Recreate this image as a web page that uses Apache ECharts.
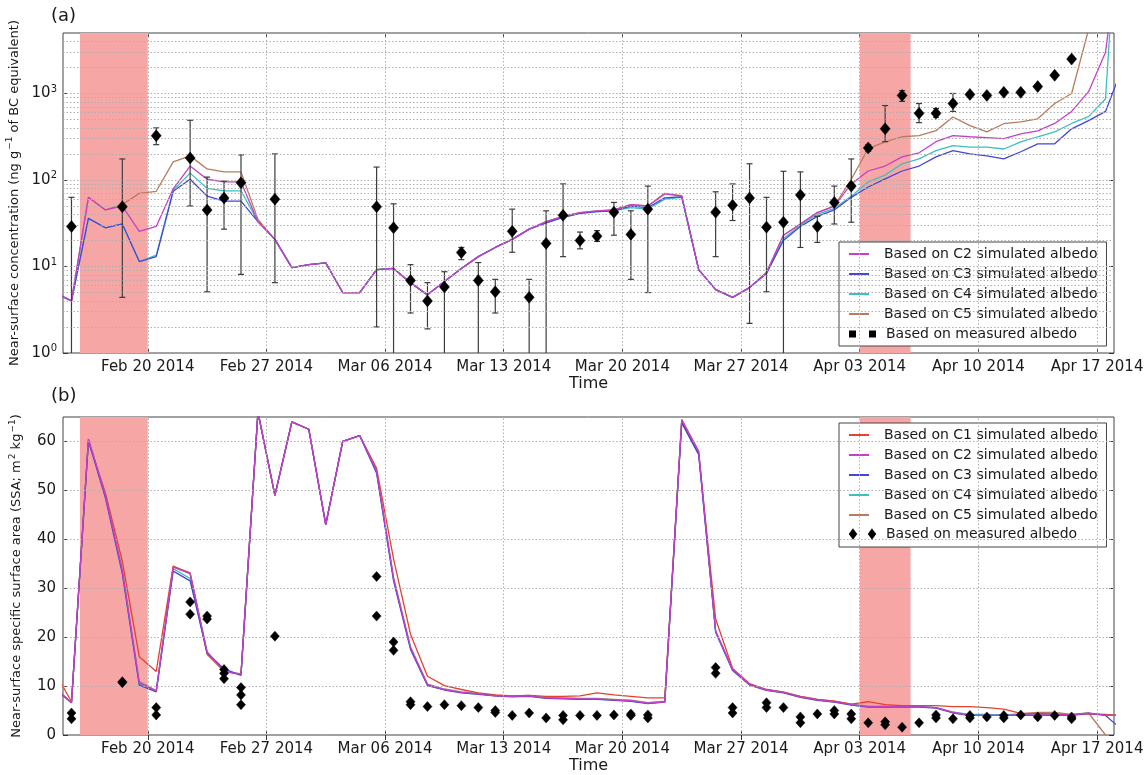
<!DOCTYPE html>
<html><head><meta charset="utf-8">
<script src="https://cdn.jsdelivr.net/npm/echarts@6/dist/echarts.min.js"></script>
<style>html,body{margin:0;padding:0;background:#fff}#c{width:1146px;height:775px}</style>
</head><body><div id="c"></div>
<script>
// ---------------- DATA ----------------
const xRange = ['02-15', '04-18'];
const tickDates = ['02-20','02-27','03-06','03-13','03-20','03-27','04-03','04-10','04-17'];
const pinkSpans = [['02-16','02-20'], ['04-03','04-06']];
const logMajor = [1, 10, 100, 1000];
const logMinor = [2,3,4,5,6,7,8,9,20,30,40,50,60,70,80,90,200,300,400,500,600,700,800,900,2000,3000,4000];
const ssaTicks = [0, 10, 20, 30, 40, 50, 60];

// simulated series, one value per day at noon
const simDates = ['02-14','02-15','02-16','02-17','02-18','02-19','02-20','02-21','02-22','02-23','02-24','02-25','02-26','02-27','02-28',
'03-01','03-02','03-03','03-04','03-05','03-06','03-07','03-08','03-09','03-10','03-11','03-12','03-13','03-14','03-15','03-16','03-17','03-18','03-19','03-20','03-21','03-22','03-23','03-24','03-25','03-26','03-27','03-28','03-29','03-30','03-31',
'04-01','04-02','04-03','04-04','04-05','04-06','04-07','04-08','04-09','04-10','04-11','04-12','04-13','04-14','04-15','04-16','04-17','04-18'];

// (a) BC concentration
const topC2 = [5.0, 4.0, 63, 45, 50, 25.5, 29, 79, 145, 102, 95, 95,
33, 20.6, 9.7, 10.5, 11, 5.0, 5.0, 9.2, 9.5, 6.5, 4.7, 6.7, 9.5, 13, 16.6, 20.6, 27, 33, 38, 42, 44, 45, 52, 50, 69, 65,
9.2, 5.4, 4.4, 5.7, 8.5, 23, 31, 42, 50, 90,
127, 145, 185, 206, 277, 325, 316, 308, 300, 342, 370, 450, 620, 1050, 3000, 100000];
const topC3 = [5.0, 4.0, 36, 28, 31, 11.4, 13, 74, 102, 65, 57, 57,
33, 20.6, 9.7, 10.5, 11, 5.0, 5.0, 9.2, 9.5, 6.5, 4.7, 6.7, 9.5, 13, 16.6, 20.6, 27, 32, 37, 41, 43, 44, 50, 48, 62, 64,
9.2, 5.4, 4.4, 5.7, 8.3, 20, 29, 38, 45, 63,
83, 103, 127, 145, 185, 218, 200, 190, 175, 212, 262, 262, 390, 485, 620, 2000];
const topC4 = [5.0, 4.0, 36, 28, 31, 11.4, 13.5, 76, 120, 80, 75, 75,
33, 20.6, 9.7, 10.5, 11, 5.0, 5.0, 9.2, 9.5, 6.5, 4.7, 6.7, 9.5, 13, 16.6, 20.6, 27, 32, 37, 41, 43, 44, 48, 46, 60, 63,
9.2, 5.4, 4.4, 5.7, 8.3, 21, 30, 40, 47, 65,
95, 114, 154, 175, 218, 250, 240, 240, 228, 275, 316, 360, 450, 540, 870, 1000000];
const topC5 = [5.0, 4.0, 63, 45, 52, 70, 74, 162, 190, 134, 124, 124,
35, 20.6, 9.7, 10.5, 11, 5.0, 5.0, 9.2, 9.5, 6.5, 4.7, 6.7, 9.5, 13, 16.6, 20.6, 27, 33, 38, 42, 44, 45, 52, 50, 70, 66,
9.2, 5.4, 4.4, 5.7, 8.5, 23, 31, 42, 50, 102,
230, 276, 316, 325, 372, 535, 425, 360, 447, 470, 510, 765, 1000, 5500, 100000, 100000];

// (a) measured with error bars
const topObsDates = ['02-15','02-18','02-20','02-22','02-23','02-24','02-25','02-27',
'03-05','03-06','03-07','03-08','03-09','03-10','03-11','03-12','03-13','03-14','03-15','03-16','03-17','03-18','03-19','03-20','03-21',
'03-25','03-26','03-27','03-28','03-29','03-30','03-31',
'04-01','04-02','04-03','04-04','04-05','04-06','04-07','04-08','04-09','04-10','04-11','04-12','04-13','04-14','04-15'];
const topObsVal = [29,49,325,180,45,62,93,60,
49,28,6.9,4.0,5.8,14.5,6.9,5.1,25.5,4.4,18.5,39,20,22.4,42.5,23.5,46,
42.5,51,62,28.5,32.5,67,29,
55,85,235,390,950,590,590,765,975,950,1030,1030,1200,1620,2500];
const topObsLow = [0.1,4.4,256,50,5.1,27,8.1,6.5,
2.0,0.1,2.9,1.9,0.1,12,0.1,2.9,14.6,0.1,0.1,13,16,19.5,23,7.1,5.0,
13,34,2.2,5.1,0.1,16.6,19,
31,32.5,215,277,810,460,530,620,930,910,985,985,1150,1560,2420];
const topObsHigh = [63,175,400,490,108,97,195,200,
141,53,10.5,6.5,8.7,16.6,11.1,7.1,46,7.1,44,90,25,26,55,44,85,
73,90,154,63,126,124,38,
85,175,255,725,1080,765,670,1000,1020,990,1075,1075,1250,1680,2580];

// (b) SSA
const botC1 = [13, 6.8, 60, 49.5, 35.5, 16, 13, 34.5, 33, 16.5, 13, 12.4,
66, 49, 64, 62.5, 43, 60, 61.2, 54.5, 36, 20.6, 12, 10.1, 9.3, 8.6, 8.2, 8.0, 8.1, 7.9, 7.9, 8.0, 8.6, 8.2, 7.9, 7.6, 7.6, 64,
57.5, 23.7, 13.6, 10.5, 9.3, 8.7, 7.9, 7.3, 6.9, 6.3,
6.8, 6.2, 6.0, 6.0, 6.0, 5.8, 5.8, 5.6, 5.3, 4.4, 4.4, 4.3, 4.1, 4.3, 4.2, 4.0];
const botC2 = [9.7, 6.6, 60.5, 49, 33.6, 10.7, 9.0, 34.3, 33, 17, 13, 12.4,
66, 49, 64, 62.5, 43, 60, 61.2, 54, 32, 17.9, 10.3, 9.3, 8.7, 8.4, 8.0, 7.9, 8.0, 7.6, 7.5, 7.4, 7.4, 7.2, 7.0, 6.5, 6.8, 64.5,
58, 21.2, 13.4, 10.3, 9.2, 8.7, 7.8, 7.2, 6.8, 6.2,
5.8, 5.8, 5.8, 5.8, 5.6, 4.6, 4.0, 4.0, 4.0, 4.1, 4.1, 4.1, 4.1, 4.5, 4.0, 4.0];
const botC3 = [9.5, 6.6, 60.2, 48.5, 33, 10.2, 8.8, 33.5, 31.5, 16.8, 13.5, 12.2,
66, 49, 64, 62.5, 43, 60, 61.2, 53.5, 31.5, 17.5, 10.1, 9.2, 8.6, 8.3, 8.0, 7.8, 7.9, 7.5, 7.4, 7.3, 7.3, 7.1, 6.9, 6.4, 6.7, 63.8,
57.3, 21.0, 13.2, 10.2, 9.1, 8.6, 7.7, 7.1, 6.7, 6.1,
5.7, 5.7, 5.7, 5.7, 5.5, 4.5, 4.0, 4.0, 4.0, 4.0, 4.0, 4.0, 4.0, 4.4, 4.0, 1.0];
const botC4 = [9.6, 6.6, 60.3, 48.8, 33.3, 10.5, 8.9, 34, 32, 16.9, 13.2, 12.3,
66, 49, 64, 62.5, 43, 60, 61.2, 53.8, 31.8, 17.7, 10.2, 9.3, 8.7, 8.4, 8.0, 7.9, 8.0, 7.6, 7.5, 7.4, 7.4, 7.2, 7.0, 6.5, 6.8, 64.2,
57.6, 21.1, 13.3, 10.3, 9.2, 8.7, 7.8, 7.2, 6.8, 6.2,
5.8, 5.8, 5.8, 5.8, 5.6, 4.6, 4.2, 4.2, 4.1, 4.2, 4.2, 4.1, 4.2, 4.4, 4.1, 4.0];
const botC5 = [9.8, 6.6, 60.5, 49, 33.8, 10.9, 9.1, 34.4, 33.2, 17, 13.1, 12.5,
66, 49, 64, 62.5, 43, 60, 61.2, 54, 32.2, 18, 10.4, 9.4, 8.8, 8.5, 8.1, 8.0, 8.1, 7.7, 7.6, 7.5, 7.5, 7.3, 7.1, 6.6, 6.9, 64.5,
58, 21.3, 13.5, 10.4, 9.3, 8.8, 7.9, 7.3, 6.9, 6.3,
5.9, 5.9, 5.9, 5.8, 5.6, 4.7, 4.1, 4.1, 4.1, 4.3, 4.6, 4.6, 4.2, 4.5, 0, -3];

// (b) measured
const botObsDates = ['02-15','02-15','02-18','02-18','02-20','02-20','02-22','02-22','02-23','02-23','02-24','02-24','02-24','02-25','02-25','02-25','02-27',
'03-05','03-05','03-06','03-06','03-07','03-07','03-08','03-09','03-10','03-11','03-12','03-12','03-13','03-14','03-15','03-16','03-16','03-17','03-18','03-19','03-20','03-20','03-21','03-21',
'03-25','03-25','03-26','03-26','03-28','03-28','03-29','03-30','03-30','03-31',
'04-01','04-01','04-02','04-02','04-03','04-04','04-04','04-05','04-06','04-07','04-07','04-08','04-09','04-09','04-10','04-11','04-11','04-12','04-13','04-14','04-15','04-15'];
const botObsVal = [4.5,3.3, 10.9,10.7, 5.6,4.1, 27.2,24.7, 24.3,23.7, 13.4,12.6,11.5, 9.7,8.2,6.2, 20.2,
32.4,24.3, 19,17.3, 6.8,6.2, 5.8, 6.2, 6.0, 5.6, 5.0,4.6, 4.0, 4.5, 3.5, 4.0,3.1, 4.0, 4.0, 4.1, 4.3,4.0, 4.1,3.5,
13.8,12.6, 5.6,4.5, 6.6,5.6, 5.6, 3.7,2.5, 4.3,
5.0,4.3, 4.3,3.3, 2.5, 2.7,2.1, 1.6, 2.5, 4.1,3.5, 3.3, 4.0,3.5, 3.7, 4.0,3.5, 4.1, 3.7, 4.0, 3.7,3.3];

// ---------------- STYLE / BUILD ----------------
const FONT = 'DejaVu Sans';
const TXT = '#1a1a1a';
const COL = {C1:'#e4412e', C2:'#c63fc6', C3:'#4646d6', C4:'#3cbfc0', C5:'#b77c5c'};
const NAME = k => 'Based on ' + k + ' simulated albedo';
const MEAS = 'Based on measured albedo';
const MON = ['Jan','Feb','Mar','Apr','May'];
const T = s => Date.parse('2014-' + s + 'T12:00:00Z');
const D = s => Date.parse('2014-' + s + 'T00:00:00Z');
const xMin = D(xRange[0]), xMax = D(xRange[1]);
const weekTicks = tickDates.map(D);
function dateLabel(v) {
  const d = new Date(v);
  return MON[d.getUTCMonth()] + ' ' + String(d.getUTCDate()).padStart(2, '0') + ' ' + d.getUTCFullYear();
}
const pair = (dates, vals) => dates.map((d, i) => [T(d), vals[i]]);

const gridLine = {color:'#b0b0b0', width:1, type:[1.5, 2]};
function gridSeries(xi, yi, yVals) {
  return {type:'line', xAxisIndex:xi, yAxisIndex:yi, data:[], silent:true, z:1, animation:false,
    markLine:{silent:true, symbol:['none','none'], animation:false, label:{show:false}, lineStyle:gridLine,
      emphasis:{disabled:true},
      data: weekTicks.map(v => ({xAxis:v})).concat(yVals.map(v => ({yAxis:v})))}};
}
function pinkSeries(xi, yi) {
  return {type:'line', xAxisIndex:xi, yAxisIndex:yi, data:[], silent:true, z:1.5, animation:false,
    markArea:{silent:true, animation:false, itemStyle:{color:'#f7a6a6', opacity:1}, emphasis:{disabled:true},
      data: pinkSpans.map(s => [{xAxis:D(s[0])}, {xAxis:D(s[1])}])}};
}
function lineSeries(key, xi, yi, vals) {
  return {name:NAME(key), type:'line', xAxisIndex:xi, yAxisIndex:yi, data:pair(simDates, vals),
    showSymbol:false, symbol:'none', clip:true, z:2, animation:false,
    lineStyle:{color:COL[key], width:1.3}, itemStyle:{color:COL[key]}, emphasis:{disabled:true}};
}

function xAxisMain(gi) {
  return {gridIndex:gi, type:'value', min:xMin, max:xMax, position:'bottom',
    axisLine:{show:false}, splitLine:{show:false},
    axisTick:{show:true, inside:true, length:5, customValues:weekTicks, lineStyle:{color:'#333'}},
    axisLabel:{customValues:weekTicks, formatter:dateLabel, fontSize:15, color:TXT, fontFamily:FONT, margin:7},
    name:'Time', nameLocation:'middle', nameGap:23, nameTextStyle:{fontSize:16, color:TXT, fontFamily:FONT}};
}
function xAxisTop(gi) {
  return {gridIndex:gi, type:'value', min:xMin, max:xMax, position:'top',
    axisLine:{show:false}, splitLine:{show:false}, axisLabel:{show:false},
    axisTick:{show:true, inside:true, length:5, customValues:weekTicks, lineStyle:{color:'#333'}}};
}
const supRich = {
  b:{fontSize:15, color:TXT, fontFamily:FONT},
  s:{fontSize:10, color:TXT, fontFamily:FONT, padding:[0,0,9,0]}
};
const nameRich = {
  n:{fontSize:13, color:TXT, fontFamily:FONT},
  s:{fontSize:9, color:TXT, fontFamily:FONT, padding:[0,0,8,1]}
};
const obsStyle = {color:'#000', opacity:1, borderColor:'#000', borderWidth:0.5};

const option = {
  animation:false,
  backgroundColor:'#fff',
  textStyle:{fontFamily:FONT},
  title:[
    {text:'(a)', left:51, top:7, padding:0, textStyle:{fontSize:18, fontWeight:'normal', color:TXT, fontFamily:FONT}},
    {text:'(b)', left:51, top:387, padding:0, textStyle:{fontSize:18, fontWeight:'normal', color:TXT, fontFamily:FONT}}
  ],
  grid:[
    {left:63, right:32, top:33, height:320, show:true, borderColor:'#444', borderWidth:1, backgroundColor:'transparent', containLabel:false, outerBoundsMode:'none'},
    {left:63, right:32, top:417, height:318, show:true, borderColor:'#444', borderWidth:1, backgroundColor:'transparent', containLabel:false, outerBoundsMode:'none'}
  ],
  xAxis:[xAxisMain(0), xAxisMain(1), xAxisTop(0), xAxisTop(1)],
  yAxis:[
    {gridIndex:0, type:'log', logBase:10, min:1, max:5000, position:'left',
      axisLine:{show:false}, splitLine:{show:false},
      axisTick:{show:true, inside:true, length:5, customValues:logMajor, lineStyle:{color:'#333'}},
      axisLabel:{customValues:logMajor, margin:6, rich:supRich,
        formatter: v => { const e = Math.log10(v); if (Math.abs(e - Math.round(e)) > 1e-6) return ''; return '{b|10}{s|' + Math.round(e) + '}'; }},
      name:'{n|Near-surface concentration (ng g}{s|\u22121}{n| of BC equivalent)}', nameLocation:'middle', nameRotate:90, nameGap:40,
      nameTextStyle:{rich:nameRich}},
    {gridIndex:1, type:'value', min:0, max:65, interval:10, position:'left',
      axisLine:{show:false}, splitLine:{show:false},
      axisTick:{show:true, inside:true, length:5, customValues:ssaTicks, lineStyle:{color:'#333'}},
      axisLabel:{customValues:ssaTicks, margin:7, fontSize:15, color:TXT, fontFamily:FONT,
        formatter: v => (v % 10 === 0 && v <= 60) ? String(v) : ''},
      name:'{n|Near-surface specific surface area (SSA; m}{s|2}{n| kg}{s|\u22121}{n|)}', nameLocation:'middle', nameRotate:90, nameGap:38,
      nameTextStyle:{rich:nameRich}},
    {gridIndex:0, type:'log', logBase:10, min:1, max:5000, position:'right',
      axisLine:{show:false}, splitLine:{show:false}, axisLabel:{show:false},
      axisTick:{show:true, inside:true, length:5, customValues:logMajor, lineStyle:{color:'#333'}}},
    {gridIndex:1, type:'value', min:0, max:65, interval:10, position:'right',
      axisLine:{show:false}, splitLine:{show:false}, axisLabel:{show:false},
      axisTick:{show:true, inside:true, length:5, customValues:ssaTicks, lineStyle:{color:'#333'}}}
  ],
  legend:[
    {data:['C2','C3','C4','C5'].map(NAME), orient:'vertical', left:839, top:242, selectedMode:false,
      icon:'rect', itemWidth:20, itemHeight:2, itemGap:6,
      textStyle:{fontSize:14, color:TXT, fontFamily:FONT, padding:[0,0,0,10]},
      backgroundColor:'#fff', borderColor:'#444', borderWidth:1, borderRadius:0, padding:[5,9,25,10], z:5},
    {data:[{name:MEAS, icon:'path://M0,0h5v5h-5z M20,0h5v5h-5z'}], orient:'vertical', left:849, top:327, selectedMode:false,
      itemWidth:25, itemHeight:5, padding:0,
      textStyle:{fontSize:14, color:TXT, fontFamily:FONT, padding:[0,0,0,6]}, z:6},
    {data:['C1','C2','C3','C4','C5'].map(NAME), orient:'vertical', left:839, top:423, selectedMode:false,
      icon:'rect', itemWidth:20, itemHeight:2, itemGap:6,
      textStyle:{fontSize:14, color:TXT, fontFamily:FONT, padding:[0,0,0,10]},
      backgroundColor:'#fff', borderColor:'#444', borderWidth:1, borderRadius:0, padding:[5,9,25,10], z:5},
    {data:[{name:MEAS, icon:'path://M3,0L6,4L3,8L0,4Z M22,0L25,4L22,8L19,4Z'}], orient:'vertical', left:849, top:527, selectedMode:false,
      itemWidth:25, itemHeight:8, padding:0,
      textStyle:{fontSize:14, color:TXT, fontFamily:FONT, padding:[0,0,0,6]}, z:6}
  ],
  series:[
    gridSeries(0, 0, logMajor.slice(1).concat(logMinor)),
    pinkSeries(0, 0),
    lineSeries('C5', 0, 0, topC5),
    lineSeries('C4', 0, 0, topC4),
    lineSeries('C3', 0, 0, topC3),
    lineSeries('C2', 0, 0, topC2),
    {name:'errbars', type:'custom', xAxisIndex:0, yAxisIndex:0, z:2.5, animation:false, silent:true,
      data: topObsDates.map((d, i) => [T(d), topObsLow[i], topObsHigh[i]]),
      encode:{x:0, y:[1,2]},
      renderItem:(params, api) => {
        const cs = params.coordSys;
        const top = cs.y, bot = cs.y + cs.height;
        const x = api.value(0);
        const pLo = api.coord([x, api.value(1)]);
        const pHi = api.coord([x, api.value(2)]);
        const st = {stroke:'#3c3c3c', lineWidth:1.2};
        const yLo = Math.min(pLo[1], bot), yHi = Math.max(pHi[1], top);
        const ch = [{type:'line', z2:0, shape:{x1:pLo[0], y1:yLo, x2:pLo[0], y2:yHi}, style:st}];
        if (pHi[1] >= top) ch.push({type:'line', z2:0, shape:{x1:pHi[0]-3, y1:pHi[1], x2:pHi[0]+3, y2:pHi[1]}, style:st});
        if (pLo[1] <= bot) ch.push({type:'line', z2:0, shape:{x1:pLo[0]-3, y1:pLo[1], x2:pLo[0]+3, y2:pLo[1]}, style:st});
        return {type:'group', children:ch};
      }},
    {name:MEAS, type:'scatter', xAxisIndex:0, yAxisIndex:0, z:6, animation:false,
      data:pair(topObsDates, topObsVal), symbol:'diamond', symbolSize:[10,12],
      itemStyle:obsStyle, emphasis:{disabled:true}},

    gridSeries(1, 1, ssaTicks.slice(1)),
    pinkSeries(1, 1),
    lineSeries('C5', 1, 1, botC5),
    lineSeries('C4', 1, 1, botC4),
    lineSeries('C1', 1, 1, botC1),
    lineSeries('C3', 1, 1, botC3),
    lineSeries('C2', 1, 1, botC2),
    {name:MEAS, type:'scatter', xAxisIndex:1, yAxisIndex:1, z:6, animation:false,
      data:pair(botObsDates, botObsVal), symbol:'diamond', symbolSize:[9,10],
      itemStyle:obsStyle, emphasis:{disabled:true}}
  ]
};
const chart = echarts.init(document.getElementById('c'), null, {renderer:'canvas', width:1146, height:775});
chart.setOption(option);
</script>
</body></html>
